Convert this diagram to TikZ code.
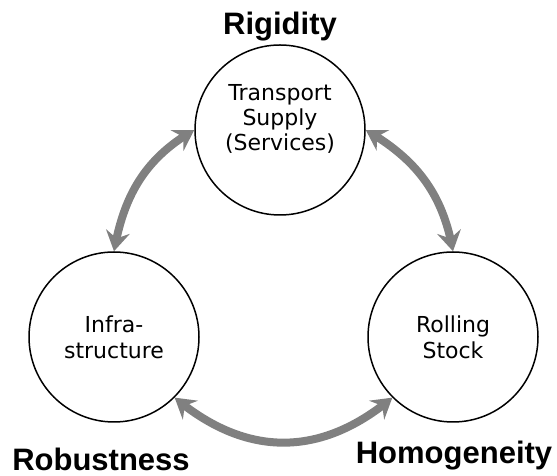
\documentclass[tikz,border=0pt]{standalone}
\usepackage{fontspec}
\setmainfont{DejaVu Sans}
\newfontfamily\headfont{Liberation Sans}
\usetikzlibrary{arrows.meta,bending}

\tikzset{
  circ/.style={draw,circle,line width=1.5pt,minimum size=170pt,inner sep=0pt,
    align=center,font=\fontsize{22}{26}\selectfont},
  quality/.style={font=\headfont\bfseries\fontsize{31}{36}\selectfont,inner sep=0pt,anchor=base},
  link/.style={draw=gray,line width=8pt,{Stealth[length=20pt,width=24pt,inset=7pt]}-{Stealth[length=20pt,width=24pt,inset=7pt]}}
}

\begin{document}
\begin{tikzpicture}[x=1pt,y=1pt,node distance=207pt]
      \useasboundingbox (0,0) rectangle (557,476);
      \node[circ,label={[align=center,font=\fontsize{22}{25}\selectfont,yshift=11pt]center:{Transport\\Supply\\(Services)}}] (1) at (280,346) {};
      \node[circ,below of=1,xshift=-166pt] (2) {Infra-\\structure};
      \node[circ,below of=1,xshift=173pt] (3) {Rolling\\Stock};

      \node[quality] (rig) at (280,441) {Rigidity};
      \node[quality] (rob) at (101,5) {Robustness};
      \node[quality] (hom) at (454,12) {Homogeneity};

      \draw[link] (2.north) to[out=80,in=210] (1.west);
      \draw[link] (1.east) to[out=-30,in=100] (3.north);
      \draw[link] (2.south east) to[out=-40,in=220,looseness=1.1] (3.south west);
    \end{tikzpicture}
\end{document}
